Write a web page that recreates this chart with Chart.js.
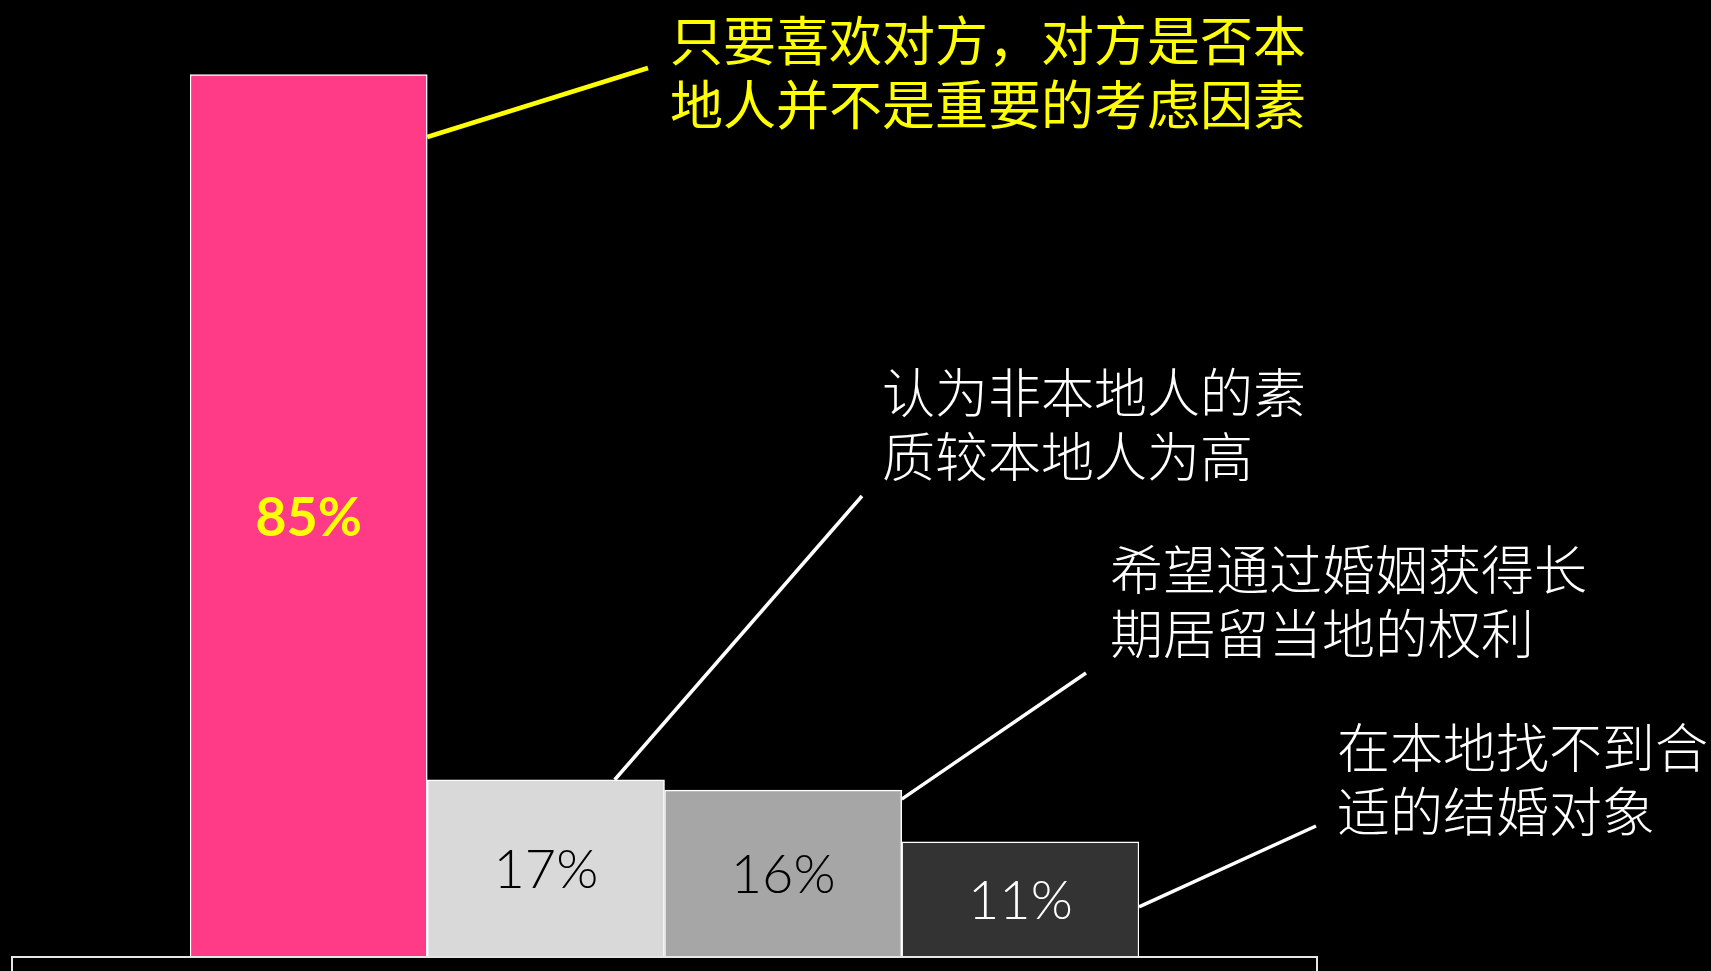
<!DOCTYPE html>
<html>
<head>
<meta charset="utf-8">
<script src="https://cdn.jsdelivr.net/npm/chart.js@4"></script>
<style>
  html, body { margin: 0; padding: 0; background: #000; }
  #wrap { width: 1711px; height: 971px; }
</style>
</head>
<body>
<div id="wrap"><canvas id="reasonChart" width="1711" height="971"></canvas></div>
<script>
// 数据
const categories = ['喜欢对方', '素质较高', '长期居留', '找不到对象'];
const shares = [85, 17, 16, 11];
const barColors = ['#ff3a87', '#d9d9d9', '#a6a6a6', '#333333'];
const labelColors = ['#ffff00', '#000000', '#000000', '#ffffff'];

const noteTexts = [
  ['只要喜欢对方，对方是否本', '地人并不是重要的考虑因素'],
  ['认为非本地人的素', '质较本地人为高'],
  ['希望通过婚姻获得长', '期居留当地的权利'],
  ['在本地找不到合', '适的结婚对象'],
];

// 注释位置（版式）
const notes = [
  { color: '#ffff00', weight: 400, lw: 4.5, tx: 670, ty: 41, from: (b) => [b.x + b.width / 2, 137], to: [648, 68] },
  { color: '#ffffff', weight: 300, lw: 3.5, tx: 882, ty: 393, from: (b) => [b.x + b.width * 0.29, b.y], to: [862, 496] },
  { color: '#ffffff', weight: 300, lw: 3.5, tx: 1110, ty: 570, from: (b) => [b.x + b.width / 2, b.y + 9], to: [1086, 673] },
  { color: '#ffffff', weight: 300, lw: 3.5, tx: 1337, ty: 748, from: (b) => [b.x + b.width / 2, b.y + 65], to: [1316, 826] },
];

const labelsPlugin = {
  id: 'barLabels',
  afterDatasetsDraw(chart) {
    const ctx = chart.ctx;
    const meta = chart.getDatasetMeta(0);
    ctx.save();
    ctx.textAlign = 'center';
    ctx.textBaseline = 'middle';
    meta.data.forEach((bar, i) => {
      ctx.font = (i === 0 ? 'bold ' : '300 ') + '54px Lato, "DejaVu Sans", sans-serif';
      ctx.fillStyle = labelColors[i];
      ctx.fillText(shares[i] + '%', bar.x, (bar.y + bar.base) / 2 + 3);
    });
    ctx.restore();
  },
};

const notesPlugin = {
  id: 'notes',
  afterDraw(chart) {
    const ctx = chart.ctx;
    const meta = chart.getDatasetMeta(0);
    const area = chart.chartArea;
    ctx.save();

    // 底部框
    ctx.strokeStyle = '#e6e6e6';
    ctx.lineWidth = 2;
    ctx.strokeRect(12, area.bottom + 1, 1305, 40);

    notes.forEach((n, i) => {
      const [x0, y0] = n.from(meta.data[i]);
      ctx.strokeStyle = n.color;
      ctx.lineWidth = n.lw;
      ctx.beginPath();
      ctx.moveTo(x0, y0);
      ctx.lineTo(n.to[0], n.to[1]);
      ctx.stroke();

      ctx.fillStyle = n.color;
      ctx.font = n.weight + ' 53px "Noto Sans CJK SC", sans-serif';
      ctx.textAlign = 'left';
      ctx.textBaseline = 'middle';
      noteTexts[i].forEach((line, k) => {
        ctx.fillText(line, n.tx, n.ty + k * 64);
      });
    });
    ctx.restore();
  },
};

const ctx = document.getElementById('reasonChart').getContext('2d');
const chart = new Chart(ctx, {
  type: 'bar',
  data: {
    labels: categories,
    datasets: [{
      data: shares,
      backgroundColor: barColors,
      borderColor: '#ffffff',
      borderWidth: 1.5,
      categoryPercentage: 1,
      barPercentage: 1,
    }],
  },
  options: {
    responsive: false,
    animation: false,
    layout: {
      padding: { left: 190, right: 572, top: 0, bottom: 15 },
    },
    plugins: {
      legend: { display: false },
      tooltip: { enabled: false },
    },
    scales: {
      x: { display: false },
      y: { display: false, min: 0, max: 92.2 },
    },
  },
  plugins: [labelsPlugin, notesPlugin],
});
</script>
</body>
</html>
